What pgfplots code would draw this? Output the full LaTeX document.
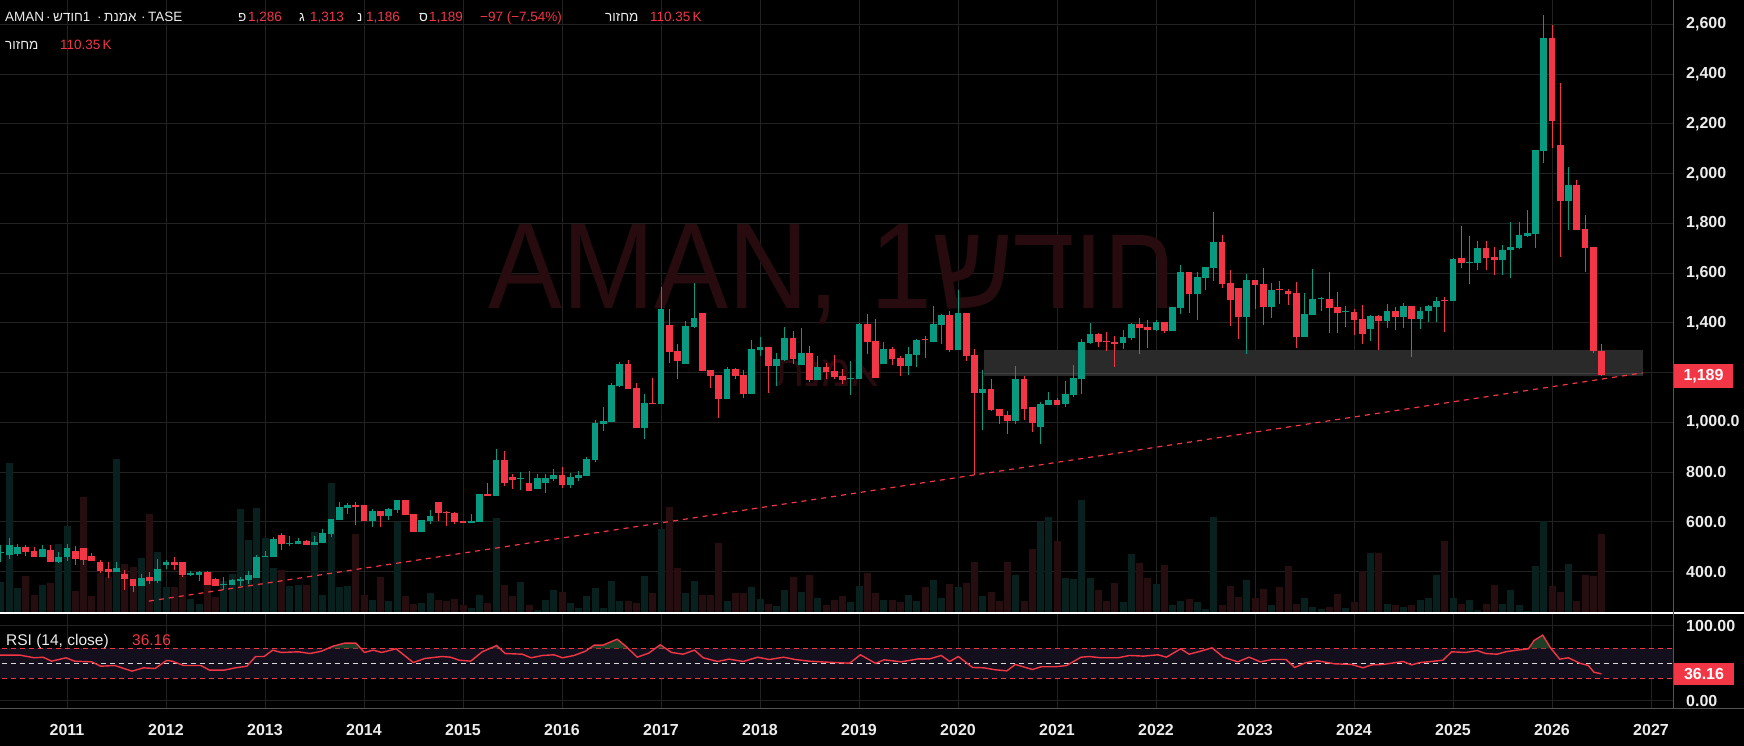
\documentclass[border=0pt]{standalone}
\usepackage{pgfplots}
\pgfplotsset{compat=1.18}
\usepackage{pgfplotstable}
\usepackage{graphicx}
\usepackage{fontspec}
\setmainfont{Liberation Sans}
\newfontfamily\heb[Script=Hebrew]{Liberation Sans}
\TeXXeTstate=1
\definecolor{cg}{RGB}{8,153,129}
\definecolor{cr}{RGB}{242,54,69}
\definecolor{vg}{RGB}{9,33,30}
\definecolor{vr}{RGB}{37,13,16}
\definecolor{gridc}{RGB}{34,34,34}
\definecolor{zone}{RGB}{42,42,42}
\definecolor{zonel}{RGB}{66,66,66}
\definecolor{wm}{RGB}{40,11,14}
\definecolor{band}{RGB}{19,15,29}
\definecolor{obf}{RGB}{30,62,38}
\definecolor{txt}{RGB}{236,236,236}
\definecolor{sepc}{RGB}{85,85,85}

\pgfplotstableread{
m o h l c v
-8 474 505 439 478 31
-7 465 533 449 505 150
-6 469 509 463 497 25
-5 497 505 463 479 37
-4 481 497 459 459 18
-3 459 505 459 489 28
-2 485 505 439 439 30
-1 439 477 433 457 69
0 459 509 443 493 87
1 481 501 427 451 22
2 493 493 427 447 116
3 461 473 441 441 17
4 437 445 395 403 40
5 409 437 375 397 36
6 397 437 397 413 154
7 389 405 327 371 49
8 369 369 319 341 46
9 341 389 341 373 55
10 377 397 349 361 99
11 361 449 353 409 61
12 425 445 409 437 26
13 437 457 405 425 26
14 437 437 377 385 37
15 385 401 381 393 14
16 385 401 361 397 9
17 397 401 345 345 28
18 369 373 341 341 16
19 347 377 325 350 32
20 345 369 345 365 39
21 361 377 341 369 104
22 365 401 349 385 73
23 373 465 373 457 105
24 459 481 459 462 75
25 457 537 457 529 45
26 545 553 485 509 43
27 509 541 501 512 27
28 509 533 509 521 28
29 521 525 505 505 28
30 505 541 505 517 81
31 513 569 513 553 18
32 549 613 537 613 130
33 609 681 609 661 26
34 657 677 633 669 27
35 669 681 589 661 79
36 669 669 605 605 18
37 605 653 577 645 13
38 645 645 577 625 36
39 625 657 609 653 12
40 649 689 636 689 91
41 689 689 629 629 17
42 633 633 557 557 9
43 557 609 557 609 10
44 605 649 593 625 20
45 681 681 605 637 13
46 641 645 581 637 12
47 637 641 593 601 14
48 605 605 597 597 8
49 597 633 597 605 5
50 601 713 601 713 18
51 713 757 705 705 10
52 705 893 705 849 95
53 849 885 745 757 28
54 781 793 733 769 17
55 774 801 729 777 31
56 757 805 725 725 8
57 733 793 733 777 3
58 757 793 717 777 13
59 773 813 765 789 23
60 789 821 737 749 21
61 749 797 737 781 10
62 777 805 765 789 5
63 785 861 785 853 17
64 849 1009 841 997 25
65 993 1061 965 1005 5
66 1001 1157 1001 1149 32
67 1145 1241 1141 1233 12
68 1233 1249 1133 1133 12
69 1137 1157 977 977 10
70 977 1113 933 1077 37
71 1077 1177 1073 1073 20
72 1073 1545 1073 1457 84
73 1393 1457 1237 1281 106
74 1285 1313 1173 1245 45
75 1233 1409 1233 1389 20
76 1385 1561 1381 1421 32
77 1441 1441 1205 1205 18
78 1209 1209 1137 1185 18
79 1189 1189 1017 1093 70
80 1093 1221 1093 1213 12
81 1213 1217 1173 1185 20
82 1189 1209 1097 1113 20
83 1113 1333 1113 1293 26
84 1289 1345 1265 1301 14
85 1301 1301 1117 1225 9
86 1225 1277 1145 1253 7
87 1249 1385 1245 1341 23
88 1341 1369 1233 1253 36
89 1229 1381 1229 1277 21
90 1277 1305 1161 1169 38
91 1169 1265 1169 1221 15
92 1221 1237 1173 1201 8
93 1205 1269 1173 1181 13
94 1185 1213 1153 1169 17
95 1174 1245 1109 1177 11
96 1173 1401 1173 1397 27
97 1397 1437 1273 1325 40
98 1329 1417 1177 1177 20
99 1233 1321 1233 1293 13
100 1293 1301 1229 1253 13
101 1257 1265 1185 1225 11
102 1225 1301 1189 1273 18
103 1269 1337 1221 1333 12
104 1335 1349 1257 1331 26
105 1325 1469 1325 1397 33
106 1393 1437 1313 1433 15
107 1433 1449 1281 1289 29
108 1289 1533 1289 1441 26
109 1441 1441 1245 1265 30
110 1269 1293 789 1117 51
111 1117 1209 969 1133 17
112 1133 1173 1045 1049 21
113 1053 1053 993 1025 12
114 1029 1045 953 1005 51
115 1005 1225 993 1173 38
116 1173 1185 1009 1053 12
117 1061 1061 961 997 64
118 981 1081 913 1073 91
119 1069 1121 1069 1089 96
120 1089 1097 1069 1069 72
121 1073 1165 1061 1113 35
122 1109 1229 1101 1177 34
123 1173 1337 1113 1321 113
124 1317 1401 1313 1357 35
125 1357 1361 1301 1321 23
126 1327 1365 1285 1323 12
127 1321 1349 1221 1313 30
128 1317 1373 1293 1345 11
129 1341 1401 1333 1397 59
130 1397 1421 1273 1381 50
131 1385 1413 1297 1373 35
132 1373 1413 1369 1405 29
133 1405 1405 1361 1369 48
134 1369 1465 1369 1465 8
135 1461 1633 1437 1605 12
136 1605 1605 1441 1517 14
137 1517 1605 1413 1585 11
138 1581 1625 1533 1625 4
139 1621 1845 1569 1725 96
140 1725 1753 1541 1557 8
141 1561 1613 1389 1493 27
142 1541 1541 1337 1425 16
143 1425 1597 1273 1573 33
144 1573 1573 1457 1553 15
145 1557 1621 1393 1465 24
146 1465 1561 1421 1533 8
147 1535 1569 1477 1531 26
148 1529 1537 1473 1517 47
149 1521 1565 1297 1345 9
150 1345 1521 1345 1437 15
151 1433 1617 1433 1497 6
152 1495 1505 1449 1498 4
153 1497 1605 1361 1461 6
154 1465 1525 1361 1441 19
155 1442 1469 1385 1445 5
156 1445 1457 1353 1413 11
157 1417 1473 1313 1357 42
158 1377 1433 1329 1429 60
159 1429 1433 1289 1409 60
160 1409 1477 1381 1449 9
161 1449 1465 1373 1425 8
162 1425 1481 1381 1469 6
163 1469 1469 1261 1417 8
164 1415 1463 1376 1447 13
165 1447 1470 1403 1466 15
166 1462 1502 1403 1489 38
167 1490 1502 1363 1486 72
168 1489 1660 1486 1655 15
169 1660 1788 1621 1641 9
170 1640 1748 1556 1643 13
171 1641 1728 1613 1700 3
172 1700 1728 1613 1660 9
173 1663 1704 1592 1652 28
174 1652 1712 1592 1692 9
175 1692 1807 1581 1704 23
176 1700 1807 1696 1752 8
177 1748 1853 1746 1760 2
178 1756 2094 1700 2094 47
179 2091 2638 2042 2546 92
180 2546 2598 2102 2211 27
181 2117 2366 1663 1889 21
182 1889 2027 1772 1954 49
183 1954 1974 1772 1772 12
184 1777 1832 1605 1700 38
185 1704 1704 1278 1286 37
186 1286 1313 1186 1189 79
}\candles

\newcommand{\hd}[4]{\node[anchor=base west, inner sep=0pt, text=#3, font=\fontsize{13.5}{15}\selectfont] at (#1pt,#2pt) {#4};}

\tikzset{tlab/.style={inner sep=0pt, text=txt, font=\fontsize{16}{18}\selectfont\bfseries}}
\pgfplotsset{
  mainbox/.style={at={(0pt,133pt)}, anchor=south west, scale only axis,
    width=1673pt, height=613pt, xmin=-8.1212, xmax=194.667},
  candle/.style 2 args={draw=none, mark=none, restrict y to domain=0:5000,
    error bars/.cd, y dir=plus, y explicit, error mark=none,
    error bar style={draw=#1, line width=#2}},
}

\begin{document}
\begin{tikzpicture}
\fill[black] (0pt,0pt) rectangle (1744pt,746pt);

% ---------- main panel: grid and price scale
\begin{axis}[mainbox, ymin=233.1, ymax=2698.5,
  axis line style={draw=none}, major tick length=0pt,
  xtick={0,12,...,192}, xticklabels={},
  ytick={400,600,...,2600},
  yticklabels={400.0,600.0,800.0,{1,000.0},{},{1,400},{1,600},{1,800},{2,000},{2,200},{2,400},{2,600}},
  yticklabel pos=right,
  yticklabel style={tlab, anchor=west, xshift=13pt},
  grid=major, major grid style={gridc, line width=1pt}]
\addplot[draw=none] coordinates {(0,1000)};
\end{axis}

% ---------- volume
\begin{axis}[mainbox, ymin=0, ymax=613, hide axis]
\addplot[ycomb, vg, line width=7pt, restrict y to domain=0:1000]
  table[x=m, y expr={ifthenelse(\thisrow{c}<\thisrow{o},5000,\thisrow{v})}] {\candles};
\addplot[ycomb, vr, line width=7pt, restrict y to domain=0:1000]
  table[x=m, y expr={ifthenelse(\thisrow{c}<\thisrow{o},\thisrow{v},5000)}] {\candles};
\end{axis}

% ---------- watermark
\node[anchor=base west, inner sep=0pt, text=wm] at (488pt,437pt)
  {\scalebox{0.91}[1]{\fontsize{122}{122}\selectfont AMAN, 1{\heb\beginR חודש\endR}}};
\node[anchor=base west, inner sep=0pt, text=wm] at (774pt,359pt)
  {\heb\fontsize{44}{44}\selectfont\beginR אמנת\endR};

% ---------- candles
\begin{axis}[mainbox, ymin=233.1, ymax=2698.5, hide axis, clip=true]
\fill[zone] (axis cs:111.15,1186) rectangle (axis cs:191.03,1289);
\draw[zonel, line width=1pt] (axis cs:111.15,1198) -- (axis cs:191.03,1198);
\addplot[cr, line width=1.2pt, dash pattern=on 5pt off 5pt] coordinates {(9.94,281) (191,1199)};
\addplot[candle={cg}{1pt}]
  table[x=m, y expr={ifthenelse(\thisrow{c}<\thisrow{o},9000,\thisrow{l})},
        y error expr={\thisrow{h}-\thisrow{l}}] {\candles};
\addplot[candle={cr}{1pt}]
  table[x=m, y expr={ifthenelse(\thisrow{c}<\thisrow{o},\thisrow{l},9000)},
        y error expr={\thisrow{h}-\thisrow{l}}] {\candles};
\addplot[candle={cg}{6.6pt}]
  table[x=m, y expr={ifthenelse(\thisrow{c}<\thisrow{o},9000,\thisrow{o})},
        y error expr={max(\thisrow{c}-\thisrow{o},4)}] {\candles};
\addplot[candle={cr}{6.6pt}]
  table[x=m, y expr={ifthenelse(\thisrow{c}<\thisrow{o},\thisrow{c},9000)},
        y error expr={max(\thisrow{o}-\thisrow{c},4)}] {\candles};
\end{axis}

% ---------- RSI panel
\begin{axis}[at={(0pt,37pt)}, anchor=south west, scale only axis,
  width=1673pt, height=95pt,
  xmin=-8.1212, xmax=194.667, ymin=-10.67, ymax=116,
  axis line style={draw=none}, major tick length=0pt,
  xtick={0,12,...,192},
  xticklabels={2011,2012,2013,2014,2015,2016,2017,2018,2019,2020,2021,2022,2023,2024,2025,2026,2027},
  xticklabel style={tlab, anchor=center, yshift=-21pt},
  ytick={0,100}, yticklabels={0.00,100.00},
  yticklabel pos=right,
  yticklabel style={tlab, anchor=west, xshift=13pt},
  grid=major, major grid style={gridc, line width=1pt}, clip=true]
\fill[band] (axis cs:-9,30) rectangle (axis cs:196,70);
\draw[cr, line width=1pt, dash pattern=on 5pt off 4pt] (axis cs:-9,70) -- (axis cs:196,70);
\draw[cr, line width=1pt, dash pattern=on 5pt off 4pt] (axis cs:-9,30) -- (axis cs:196,30);
\draw[white!85!black, line width=1pt, dash pattern=on 5pt off 4pt] (axis cs:-9,50) -- (axis cs:196,50);
\addplot[fill=obf, draw=none] coordinates {(31.6,70) (32.24,73.1) (33.63,77.1) (35.02,77.1) (35.62,70)};
\addplot[fill=obf, draw=none] coordinates {(51.24,70) (52.07,74.0) (52.46,70)};
\addplot[fill=obf, draw=none] coordinates {(63.32,70) (63.89,74.4) (64.95,74.4) (66.68,82.4) (67.72,73.1) (68.02,70)};
\addplot[fill=obf, draw=none] coordinates {(71.29,70) (71.9,74.9) (72.56,70)};
\addplot[fill=obf, draw=none] coordinates {(177.16,70) (177.83,80.7) (178.87,87.8) (179.88,70)};
\addplot[cr, line width=1.4pt] coordinates {
(-8.12,61.1) (-5.69,61.1) (-3.95,57.6) (-2.9,58.4) (-1.86,53.1) (-0.12,57.6) (0.92,53.1) (3.01,52.2) (4.06,46.4) (5.79,47.3) (7.88,39.8) (9.27,44.2) (10.67,43.3) (12.06,54.0) (12.75,53.1) (14.15,47.3) (16.23,47.3) (17.27,41.1) (19.02,41.1) (20.41,44.2) (21.8,46.4) (22.85,59.3) (23.89,59.3) (24.93,67.8) (25.98,64.7) (28.06,65.6) (29.45,63.3) (30.85,66.4) (32.24,73.1) (33.63,77.1) (35.02,77.1) (36.06,64.7) (37.11,67.8) (38.15,64.7) (39.89,69.6) (41.98,51.3) (43.37,56.7) (45.45,59.3) (46.5,58.4) (47.54,54.4) (48.93,53.1) (50.33,65.6) (52.07,74.0) (53.11,63.3) (55.2,62.4) (56.24,57.6) (57.64,60.7) (59.03,61.6) (60.07,57.6) (61.47,60.7) (62.85,66.4) (63.89,74.4) (64.95,74.4) (66.68,82.4) (67.72,73.1) (69.12,58.4) (70.51,63.8) (71.9,74.9) (73.28,64.7) (74.68,62.4) (76.07,67.8) (77.11,57.6) (78.86,52.7) (80.24,55.8) (81.99,52.7) (83.72,58.4) (85.12,55.3) (86.86,58.4) (88.25,55.3) (89.99,53.1) (92.07,51.8) (94.86,50.4) (96.17,61.6) (98.0,50.2) (99.05,54.9) (101.13,52.2) (103.2,56.2) (104.58,56.2) (105.96,60.7) (107.0,52.7) (108.04,59.3) (109.77,44.7) (111.15,44.2) (112.53,41.6) (113.92,40.2) (114.95,48.7) (117.02,42.0) (118.06,45.6) (119.78,45.6) (121.16,47.3) (122.9,58.4) (123.94,59.3) (125.32,57.6) (127.39,57.6) (128.78,60.7) (130.5,59.8) (132.23,61.6) (133.26,58.4) (134.99,69.6) (136.02,62.4) (137.4,66.4) (138.79,70.9) (140.17,58.4) (141.9,52.2) (143.28,58.4) (144.67,52.2) (146.05,55.3) (147.77,55.3) (148.81,44.7) (150.19,51.3) (151.58,53.6) (153.65,49.6) (155.72,48.7) (157.1,44.2) (158.15,48.2) (159.53,48.7) (161.94,52.7) (162.98,48.2) (164.01,51.3) (165.39,52.7) (166.78,54.4) (167.82,65.6) (169.54,64.7) (170.92,67.3) (171.96,63.3) (173.35,62.4) (174.38,65.6) (175.76,67.8) (177.14,69.6) (177.83,80.7) (178.87,87.8) (179.9,69.6) (180.94,55.8) (181.98,57.6) (183.37,50.4) (184.4,47.3) (185.09,38.4) (185.99,36.16)};
\end{axis}

% ---------- separators
\draw[white, line width=1.5pt] (0pt,133pt) -- (1744pt,133pt);
\draw[sepc, line width=1pt] (1673pt,37pt) -- (1673pt,746pt);
\draw[sepc, line width=1pt] (0pt,37pt) -- (1744pt,37pt);

% ---------- badges
\fill[cr] (1674pt,358.3pt) rectangle (1733pt,381.5pt);
\node[tlab, text=white] at (1703.5pt,370pt) {1,189};
\fill[cr] (1674pt,61pt) rectangle (1734pt,83.3pt);
\node[tlab, text=white] at (1704pt,72.2pt) {36.16};

% ---------- header
\hd{5}{724.5}{txt}{AMAN}
\hd{46}{724.5}{txt}{·}
\hd{53}{724.5}{txt}{{\heb\beginR חודש\endR}1}
\hd{97}{724.5}{txt}{·}
\hd{104}{724.5}{txt}{{\heb\beginR אמנת\endR}}
\hd{141}{724.5}{txt}{·}
\hd{148}{724.5}{txt}{TASE}
\hd{238}{724.5}{txt}{{\heb פ}}
\hd{248}{724.5}{cr}{1,286}
\hd{299}{724.5}{txt}{{\heb ג}}
\hd{310}{724.5}{cr}{1,313}
\hd{357}{724.5}{txt}{{\heb נ}}
\hd{366}{724.5}{cr}{1,186}
\hd{419}{724.5}{txt}{{\heb ס}}
\hd{429}{724.5}{cr}{1,189}
\hd{480}{724.5}{cr}{−97 (−7.54\%)}
\hd{605}{724.5}{txt}{{\heb\beginR מחזור\endR}}
\hd{650}{724.5}{cr}{110.35\,K}
\hd{5}{696}{txt}{{\heb\beginR מחזור\endR}}
\hd{60}{696}{cr}{110.35\,K}

% ---------- RSI label
\node[anchor=base west, inner sep=0pt, text=txt, font=\fontsize{15.5}{17}\selectfont] at (6pt,100.5pt) {RSI (14, close)};
\node[anchor=base west, inner sep=0pt, text=cr, font=\fontsize{15.5}{17}\selectfont] at (132pt,100.5pt) {36.16};

\pgfresetboundingbox
\useasboundingbox (0pt,0pt) rectangle (1744pt,746pt);
\end{tikzpicture}
\end{document}
